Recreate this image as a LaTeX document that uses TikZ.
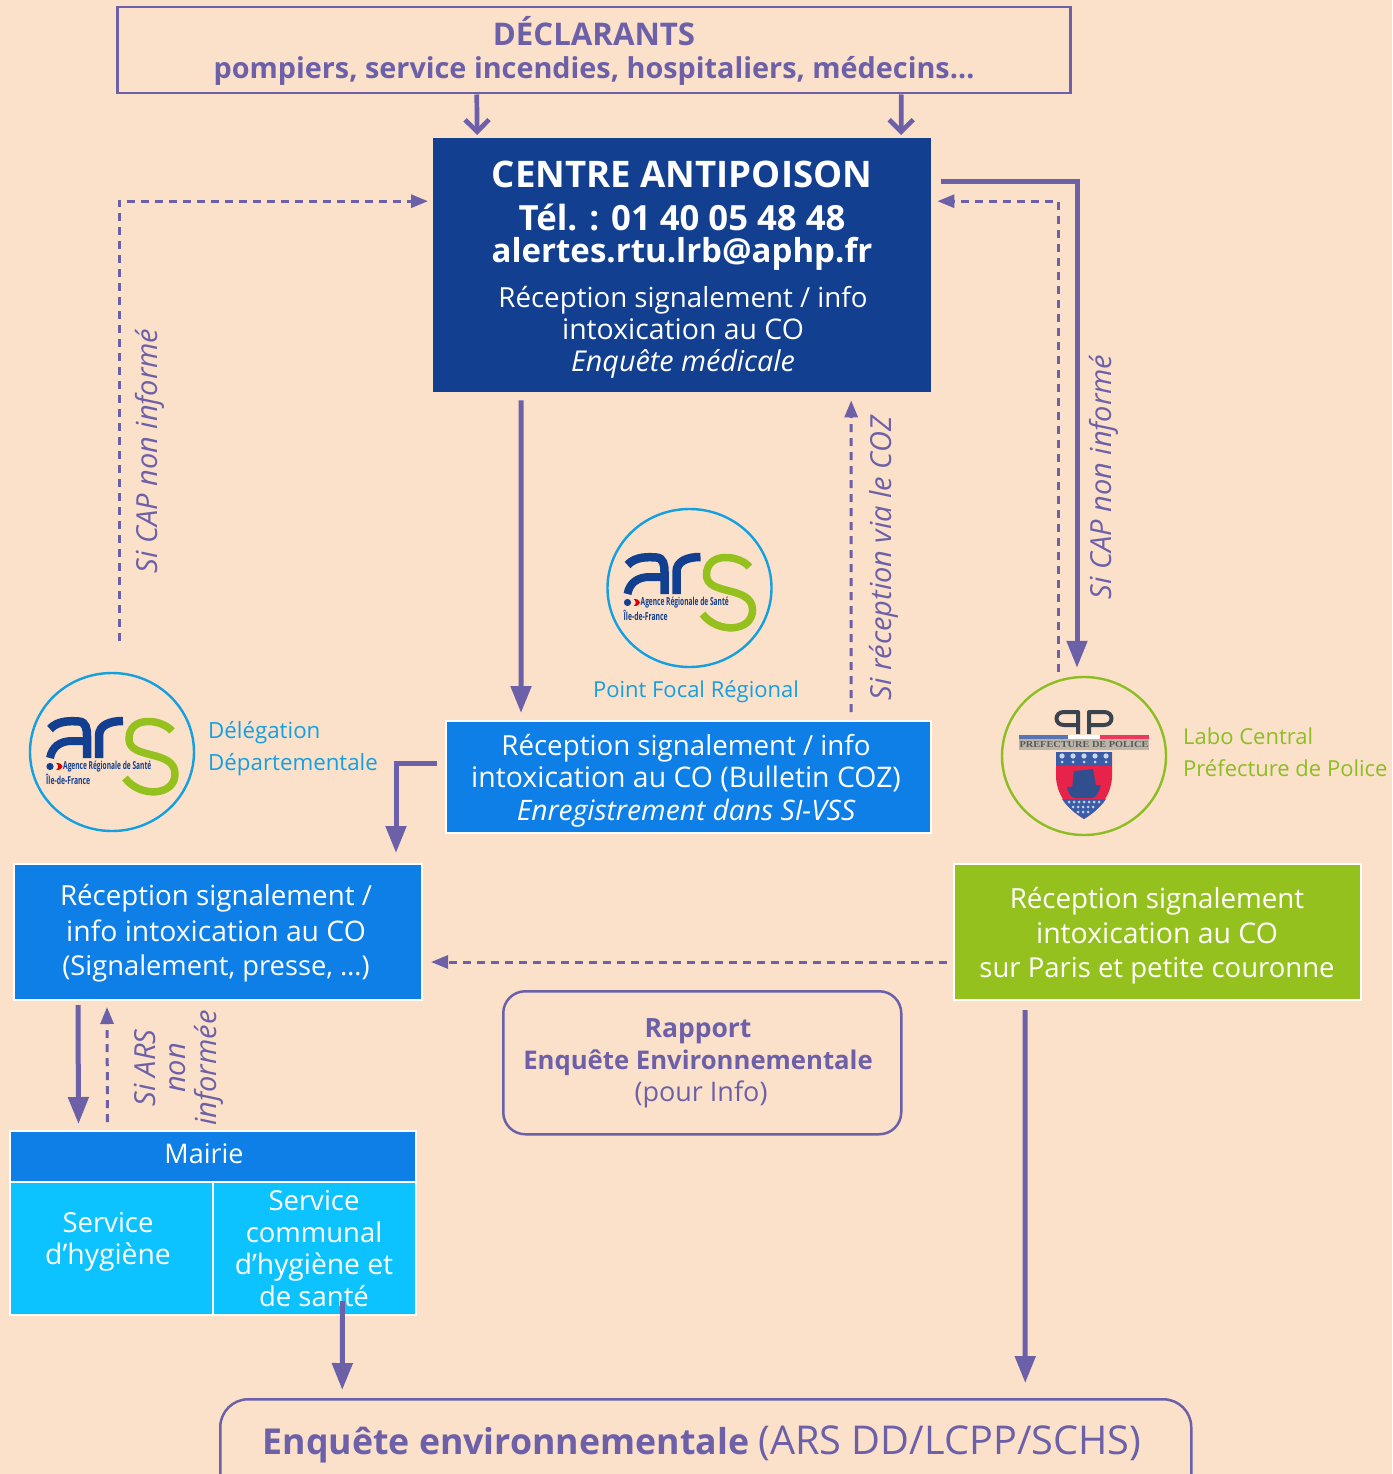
\documentclass[tikz,border=0pt]{standalone}
\usepackage{fontspec}
\setmainfont{Open Sans}
\newfontfamily\serf{Liberation Serif}
\usetikzlibrary{arrows.meta,shapes.geometric}
\definecolor{bgc}{HTML}{FBE0CA}
\definecolor{vio}{HTML}{6C60A8}
\definecolor{navy}{HTML}{123F8F}
\definecolor{blu}{HTML}{0F7FE8}
\definecolor{cya}{HTML}{0DC3FF}
\definecolor{grn}{HTML}{95C11F}
\definecolor{sky}{HTML}{14A0E0}
\definecolor{lgrn}{HTML}{8CBE23}
\definecolor{ppdark}{HTML}{3A4450}
\definecolor{ppblue}{HTML}{3A5DA8}
\definecolor{ppred}{HTML}{E8234A}
\definecolor{ppgray}{HTML}{BDB5A8}
\newcommand{\fs}[1]{\fontsize{#1}{#1}\selectfont}
\newcommand{\tx}[6][white]{\node[text=#1,font={#5},inner sep=0pt,anchor=base] (#2) at (#3,#4) {#6};}
\tikzset{
 x=1pt,y=-1pt,
 boxa/.style={draw=white,line width=2pt,inner sep=0pt,anchor=north west},
 outl/.style={draw=vio,line width=2.5pt,inner sep=0pt,anchor=north west},
 solidar/.style={draw=vio,line width=5pt,-{Triangle[length=27pt,width=20pt]}},
 chevar/.style={draw=vio,line width=4.7pt,-{Straight Barb[length=12pt,width=24pt,line width=4.7pt]}},
 dashar/.style={draw=vio,line width=3pt,dash pattern=on 8pt off 6pt,-{Triangle[length=17pt,width=13pt]}},
 lab/.style={text=vio,font=\fs{29}\itshape,rotate=90,inner sep=0pt},
 logoring/.style={ellipse,line width=2.4pt,minimum width=164pt,minimum height=158pt,inner sep=0pt},
}
\newcommand{\arslogo}[3]{%
 \node[logoring,draw=sky] (#3) at (#1,#2) {};
 \begin{scope}[shift={(#1,#2)}]
 \draw[navy,line width=8.5pt] (-62,-23) .. controls (-54,-32) and (-40,-31) .. (-33,-30.5) .. controls (-26,-30) and (-25,-23) .. (-25,-16) -- (-25,6);
 \draw[navy,line width=8pt] (-25,-11) -- (-40,-11) .. controls (-52,-11) and (-60,-5) .. (-62,6);
 \draw[navy,line width=8.5pt] (-13,6) -- (-13,-16) .. controls (-13,-27) and (-2,-31) .. (11,-31);
 \draw[grn,line width=7.5pt] (60,-21) .. controls (50,-33) and (17,-37) .. (17,-13) .. controls (17,8) and (63,-3) .. (63,22) .. controls (63,44) and (28,46) .. (13,26);
 \fill[navy] (-62,14.5) circle (3.6pt);
 \fill[red!85!black] (-56,11) .. controls (-52,11) and (-50,12) .. (-49.5,14.5) .. controls (-50,17) and (-52,18) .. (-56,18) .. controls (-53,16) and (-53,13) .. (-56,11);
 \node[anchor=west,inner sep=0pt,text=navy] (#3a) at (-49,15) {\scalebox{.6}[1]{\fs{11}\bfseries Agence Régionale de Santé}};
 \node[anchor=west,inner sep=0pt,text=navy] (#3b) at (-66,27) {\scalebox{.62}[1]{\fs{11}\bfseries Île-de-France}};
 \end{scope}}
\begin{document}
\begin{tikzpicture}
\path[use as bounding box] (0,0) rectangle (1392,1474);
\clip (0,0) rectangle (1392,1474);
\fill[bgc] (0,0) rectangle (1392,1474);
% boxes
\node[outl,minimum width=953pt,minimum height=86pt] (decl) at (116,6) {};
\tx[vio]{declA}{594}{46}{\fs{31.2}\bfseries}{DÉCLARANTS}
\tx[vio]{declB}{594}{79}{\fs{28.8}\bfseries}{pompiers, service incendies, hospitaliers, médecins…}
\node[fill=navy,anchor=north west,minimum width=498pt,minimum height=254pt,inner sep=0pt] (cap) at (433,138) {};
\tx{capA}{682}{188}{\fs{36.6}\bfseries}{CENTRE ANTIPOISON}
\tx{capB}{682}{230}{\fs{34.7}\bfseries}{Tél. : 01 40 05 48 48}
\tx{capC}{682}{262}{\fs{33}\bfseries}{alertes.rtu.lrb@aphp.fr}
\tx{capD}{683}{307}{\fs{27.7}}{Réception signalement / info}
\tx{capE}{683}{339}{\fs{28.4}}{intoxication au CO}
\tx{capF}{683}{371}{\fs{28.7}\itshape}{Enquête médicale}
\node[boxa,fill=blu,minimum width=485pt,minimum height=112pt] (pfr) at (445,720) {};
\tx{pfrA}{686}{755}{\fs{27.7}}{Réception signalement / info}
\tx{pfrB}{686}{787}{\fs{28.4}}{intoxication au CO (Bulletin COZ)}
\tx{pfrC}{686}{820}{\fs{28.2}\itshape}{Enregistrement dans SI-VSS}
\node[boxa,fill=blu,minimum width=408pt,minimum height=136pt] (dd) at (13,863) {};
\tx{ddA}{216}{905}{\fs{27.7}}{Réception signalement /}
\tx{ddB}{216}{941}{\fs{28.3}}{info intoxication au CO}
\tx{ddC}{216}{975}{\fs{27.3}}{(Signalement, presse, …)}
\node[boxa,fill=grn,minimum width=407pt,minimum height=136pt] (lcpp) at (953,863) {};
\tx{lcA}{1157}{908}{\fs{27.7}}{Réception signalement}
\tx{lcB}{1157}{943}{\fs{28.4}}{intoxication au CO}
\tx{lcC}{1157}{977}{\fs{27.5}}{sur Paris et petite couronne}
\node[outl,rounded corners=22pt,minimum width=398pt,minimum height=143pt] (rap) at (502,990) {};
\tx[vio]{rapA}{698}{1037}{\fs{26.5}\bfseries}{Rapport}
\tx[vio]{rapB}{698}{1069}{\fs{25.7}\bfseries}{Enquête Environnementale}
\tx[vio]{rapC}{701}{1101}{\fs{27}}{(pour Info)}
\node[boxa,fill=blu,minimum width=406pt,minimum height=51pt] (mairie) at (8.5,1130) {};
\tx{mairieT}{204}{1163}{\fs{27}}{Mairie}
\node[boxa,fill=cya,minimum width=203pt,minimum height=133pt] (hyg) at (8.5,1181) {};
\node[boxa,fill=cya,minimum width=203pt,minimum height=133pt] (schs) at (211.5,1181) {};
\tx{hygA}{108}{1232}{\fs{27.5}}{Service}
\tx{hygB}{108}{1264}{\fs{28.3}}{d’hygiène}
\tx{scA}{314}{1210}{\fs{27.5}}{Service}
\tx{scB}{314}{1242}{\fs{27.4}}{communal}
\tx{scC}{314}{1274}{\fs{28.2}}{d’hygiène et}
\tx{scD}{314}{1306}{\fs{27.5}}{de santé}
\node[outl,rounded corners=28pt,minimum width=971pt,minimum height=110pt] (enq) at (219,1398) {};
\tx[vio]{enqT}{702}{1454}{\fs{35.7}}{\textbf{Enquête environnementale} \fs{39.7}(ARS DD/LCPP/SCHS)}
% logos
\arslogo{689.5}{588}{ars1}
\arslogo{112}{752}{ars2}
\tx[sky]{ars1t}{696}{697}{\fs{22}}{Point Focal Régional}
\node[text=sky,font=\fs{22.3},inner sep=0pt,anchor=base west] (ars2a) at (208,738) {Délégation};
\node[text=sky,font=\fs{22.3},inner sep=0pt,anchor=base west] (ars2b) at (208,770) {Départementale};
\node[logoring,draw=lgrn] (pp) at (1084,756) {};
\begin{scope}[shift={(1084,756)}]
 \draw[ppdark,line width=4pt,line join=round] (-6,-22) -- (-6,-44) -- (-20,-44) .. controls (-30,-44) and (-30,-31) .. (-20,-31) -- (-6,-31);
 \draw[ppdark,line width=4pt,line join=round] (5,-22) -- (5,-44) -- (20,-44) .. controls (30,-44) and (30,-31) .. (20,-31) -- (5,-31);
 \fill[ppblue!85!white] (-65,-21) rectangle (-16,-17);
 \fill[white] (-16,-21) rectangle (16,-17);
 \fill[ppred!90!white] (16,-21) rectangle (65,-17);
 \fill[ppgray] (-65,-17) rectangle (65,-6);
 \node[text=black!65,inner sep=0pt] (ppt) at (0,-11.5) {\scalebox{1}[.9]{\serf\fs{10.3}\bfseries PREFECTURE DE POLICE}};
 \fill[ppred] (-28,-4) -- (28,-4) -- (28,22) .. controls (26,44) and (12,55) .. (0,63) .. controls (-12,55) and (-26,44) .. (-28,22) -- cycle;
 \fill[ppblue] (-28,-4) rectangle (28,10);
 \foreach \i in {-22,-11,0,11,22}{\fill[white!75!ppblue] (\i,0) circle (2.6pt); \fill[white!75!ppblue] (\i,6) circle (1.5pt);}
 \fill[ppblue] (-22,43) -- (22,43) .. controls (16,52) and (8,58) .. (0,63) .. controls (-8,58) and (-16,52) .. (-22,43) -- cycle;
 \foreach \i/\j in {-15/46,-10/46,-5/46,0/46,5/46,10/46,15/46,-11/51,-6/51,-1/51,4/51,9/51,-6/56,-1/56,4/56}{\fill[white!70!ppblue] (\i,\j) circle (1.5pt);}
 \fill[ppblue!85!black] (-10,15) -- (9,13) -- (12,30) -- (-12,33) -- cycle;
 \fill[ppblue!85!black] (-17,31) -- (17,29) .. controls (15,36) and (12,42) .. (8,42) -- (-9,42) .. controls (-13,42) and (-16,36) .. (-17,31) -- cycle;
\end{scope}
\node[text=lgrn,font=\fs{22},inner sep=0pt,anchor=base west] (ppa) at (1183,744) {Labo Central};
\node[text=lgrn,font=\fs{22},inner sep=0pt,anchor=base west] (ppb) at (1183,776) {Préfecture de Police};
% labels
\node[lab] (l1) at (150,451) {Si CAP non informé};
\node[lab] (l2) at (884,558) {Si réception via le COZ};
\node[lab] (l3) at (1104,477) {Si CAP non informé};
\node[lab] (l4) at (145,1068) {Si ARS};
\node[lab] (l5) at (178,1068) {non};
\node[lab] (l6) at (209,1068) {informée};
% connectors
\draw[chevar] ([xshift=-117pt]decl.south) -- ([xshift=-205pt,yshift=3pt]cap.north);
\draw[chevar] ([xshift=307.5pt]decl.south) -- ([xshift=219pt,yshift=3pt]cap.north);
\draw[solidar] ([xshift=-161pt,yshift=-8pt]cap.south) -- ([xshift=-167.5pt,yshift=7pt]pfr.north);
\draw[dashar] ([xshift=162.5pt,yshift=8pt]pfr.north) -- ([xshift=169pt,yshift=-8pt]cap.south);
\draw[dashar] ([xshift=7pt,yshift=31pt]ars2.north) |- ([xshift=-5pt,yshift=64pt]cap.west);
\draw[solidar] ([xshift=10pt,yshift=84pt]cap.east) -| ([xshift=-7pt,yshift=8pt]pp.north);
\draw[dashar] ([xshift=-26pt,yshift=4pt]pp.north) |- ([xshift=6pt,yshift=64pt]cap.east);
\draw[solidar] ([xshift=-8pt,yshift=14pt]pfr.west) -| ([xshift=178pt,yshift=10pt]dd.north);
\draw[dashar] ([xshift=-6pt,yshift=-30pt]lcpp.west) -- ([xshift=8pt,yshift=-30pt]dd.east);
\draw[solidar] ([xshift=-140pt,yshift=-4pt]dd.south) -- ([xshift=-134pt,yshift=6pt]mairie.north);
\draw[dashar] ([xshift=-105pt,yshift=8pt]mairie.north) -- ([xshift=-111pt,yshift=-6pt]dd.south);
\draw[solidar] ([xshift=-132.5pt,yshift=-9pt]lcpp.south) -- ([xshift=319.5pt,yshift=15pt]enq.north);
\draw[solidar] ([xshift=28.5pt,yshift=15pt]schs.south) -- ([xshift=-363.5pt,yshift=8pt]enq.north);
\end{tikzpicture}
\end{document}
